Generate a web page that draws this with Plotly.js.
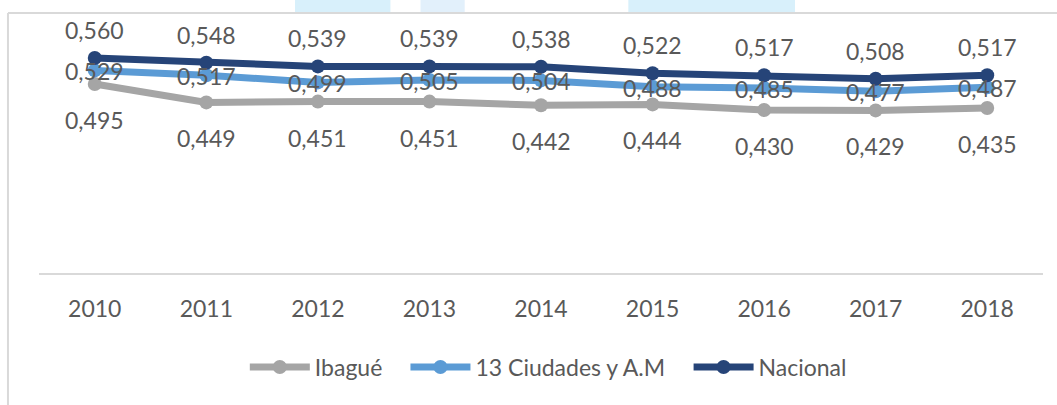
<!DOCTYPE html>
<html>
<head>
<meta charset="utf-8">
<script src="https://cdn.plot.ly/plotly-3.0.1.min.js"></script>
<style>
  html, body { margin: 0; padding: 0; background: #ffffff; }
  #chart { width: 1057px; height: 405px; }
</style>
</head>
<body>
<div id="chart"></div>
<script>
// ---- data ----
const years = ['2010', '2011', '2012', '2013', '2014', '2015', '2016', '2017', '2018'];
const ibague = [0.495, 0.449, 0.451, 0.451, 0.442, 0.444, 0.430, 0.429, 0.435];
const ciudades13 = [0.529, 0.517, 0.499, 0.505, 0.504, 0.488, 0.485, 0.477, 0.487];
const nacional = [0.560, 0.548, 0.539, 0.539, 0.538, 0.522, 0.517, 0.508, 0.517];
const seriesNames = ['Ibagué', '13 Ciudades y A.M', 'Nacional'];

// ---- styles ----
const FONT = 'Lato, "Open Sans", sans-serif';
const TXT = '#595959';
const colors = ['#a5a5a5', '#5b9bd5', '#264478'];
const labelShift = [-36, -1, 28];
const legendIds = ['legend', 'legend2', 'legend3'];
const legendX = [0.205, 0.365, 0.647];

const series = [ibague, ciudades13, nacional];
const fmt = v => v.toFixed(3).replace('.', ',');

const traces = series.map((vals, k) => ({
  type: 'scatter',
  mode: 'lines+markers',
  name: seriesNames[k],
  legend: legendIds[k],
  x: years,
  y: vals,
  line: { color: colors[k], width: 7 },
  marker: { color: colors[k], size: 14 },
  hoverinfo: 'skip'
}));

const annotations = [];
series.forEach((vals, k) => {
  vals.forEach((v, i) => {
    annotations.push({
      x: i, y: v, xref: 'x', yref: 'y',
      text: fmt(v), showarrow: false,
      yshift: labelShift[k],
      font: { family: FONT, size: 23, color: TXT }
    });
  });
});

const shapes = [
  // light blue artefacts at the very top
  { type: 'rect', xref: 'paper', yref: 'paper', x0: 0.255, x1: 0.35, y0: 1.13, y1: 1.19,
    fillcolor: '#d8f0fb', line: { width: 0 }, layer: 'below' },
  { type: 'rect', xref: 'paper', yref: 'paper', x0: 0.38, x1: 0.424, y0: 1.13, y1: 1.19,
    fillcolor: '#e2f0fb', line: { width: 0 }, layer: 'below' },
  { type: 'rect', xref: 'paper', yref: 'paper', x0: 0.587, x1: 0.753, y0: 1.13, y1: 1.19,
    fillcolor: '#d8f0fb', line: { width: 0 }, layer: 'below' },
  // outer frame (top and left)
  { type: 'line', xref: 'paper', yref: 'paper', x0: -0.0309, x1: 1.02, y0: 1.1255, y1: 1.1255,
    line: { color: '#d9d9d9', width: 2 } },
  { type: 'line', xref: 'paper', yref: 'paper', x0: -0.0309, x1: -0.0309, y0: 1.1255, y1: -0.6,
    line: { color: '#d9d9d9', width: 2 } }
];

function legendCfg(x) {
  return {
    orientation: 'h',
    x: x, xanchor: 'left',
    y: -0.407, yanchor: 'middle',
    font: { family: FONT, size: 23, color: TXT },
    itemwidth: 60,
    bgcolor: 'rgba(0,0,0,0)'
  };
}

const layout = {
  width: 1057,
  height: 405,
  margin: { l: 39, r: 14, t: 42, b: 132 },
  paper_bgcolor: '#ffffff',
  plot_bgcolor: '#ffffff',
  showlegend: true,
  legend: legendCfg(legendX[0]),
  legend2: legendCfg(legendX[1]),
  legend3: legendCfg(legendX[2]),
  xaxis: {
    type: 'category',
    range: [-0.5, 8.5],
    showline: true,
    linecolor: '#d9d9d9',
    linewidth: 2,
    showgrid: false,
    zeroline: false,
    ticks: 'outside',
    ticklen: 14,
    tickcolor: 'rgba(0,0,0,0)',
    tickfont: { family: FONT, size: 23, color: TXT },
    fixedrange: true
  },
  yaxis: {
    range: [0.0225, 0.6],
    showgrid: false,
    zeroline: false,
    showline: false,
    showticklabels: false,
    fixedrange: true
  },
  annotations: annotations,
  shapes: shapes
};

Plotly.newPlot('chart', traces, layout, { displayModeBar: false, staticPlot: true });
</script>
</body>
</html>
